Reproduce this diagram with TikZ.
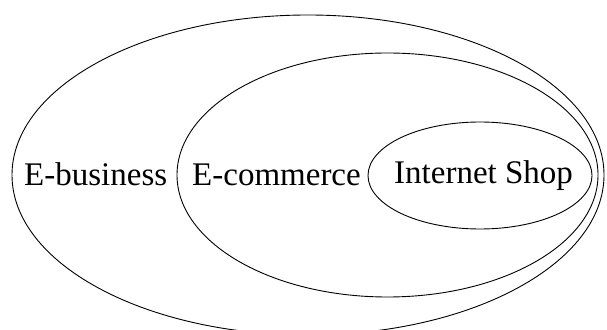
\documentclass[tikz,border=0pt]{standalone}
\usepackage{fontspec}
\setmainfont{Liberation Serif}
\usetikzlibrary{shapes.geometric}
\begin{document}
\begin{tikzpicture}[x=1pt,y=1pt,
  ring/.style={draw=black, line width=0.9pt, ellipse, inner sep=0pt},
  lbl/.style={anchor=base west, inner sep=0pt, font=\fontsize{33}{36}\selectfont}]
\useasboundingbox (0,0) rectangle (607,329);
\clip (0,0) rectangle (607,329);
\node[ring, minimum width=592pt, minimum height=320pt] (outer) at (308,154) {};
\node[ring, minimum width=421pt, minimum height=244pt] (middle) at (387.5,154) {};
\node[ring, minimum width=224pt, minimum height=107pt] (inner) at (480,153.5) {};
\node[lbl] (ebus) at (24,143) {E-business};
\node[lbl] (ecom) at (192,143) {E-commerce};
\node[lbl] (shop) at (394,145) {Internet Shop};
\end{tikzpicture}
\end{document}
